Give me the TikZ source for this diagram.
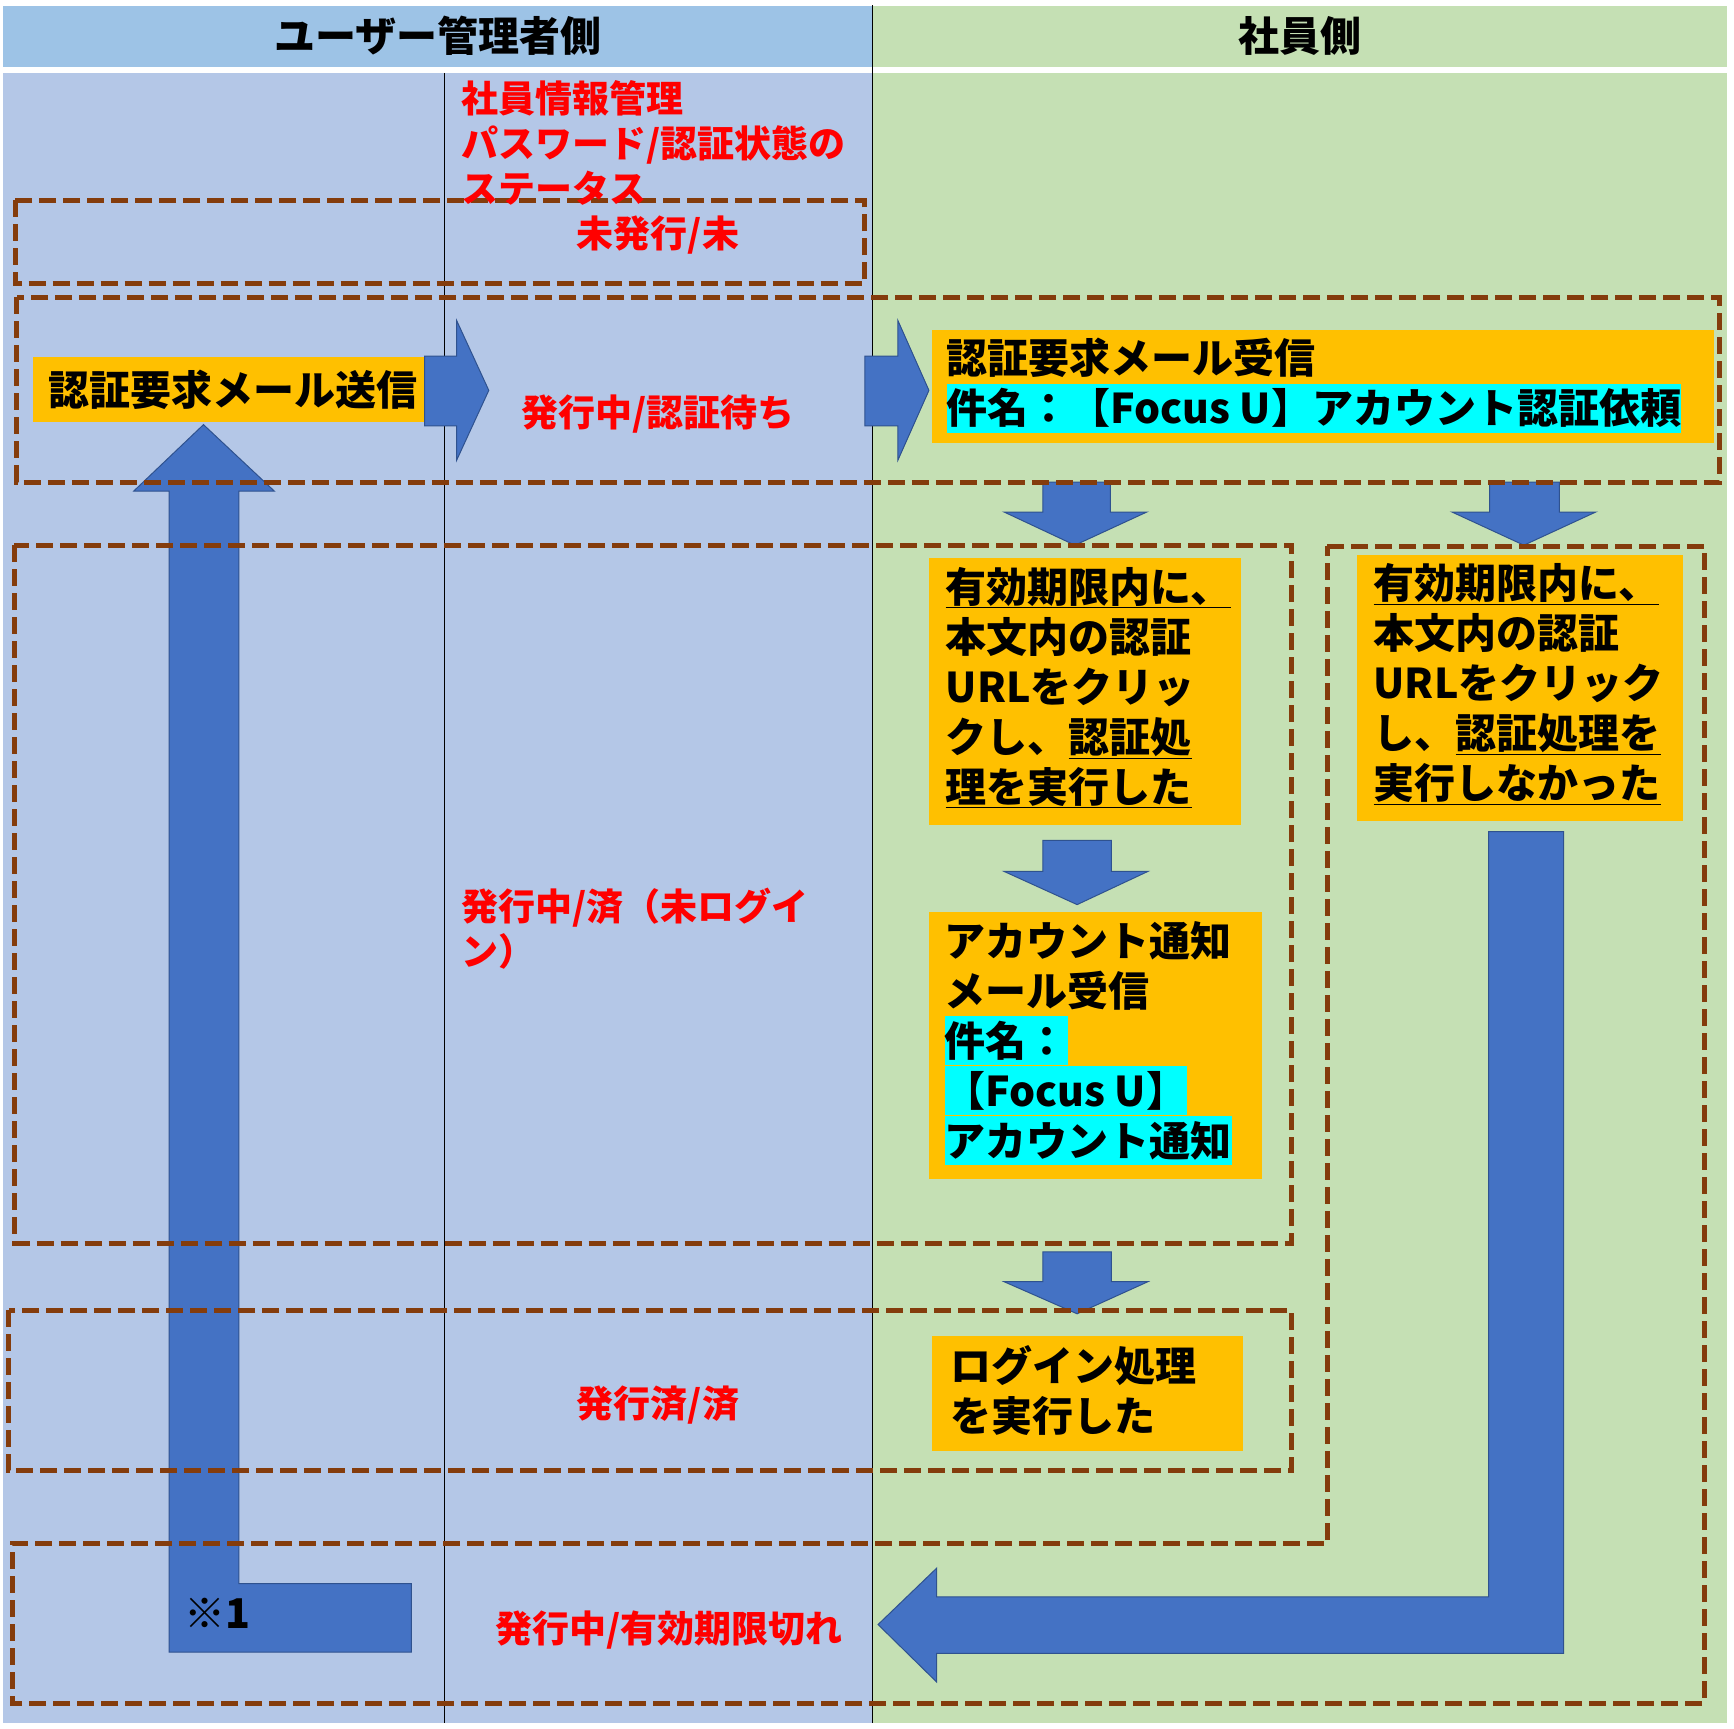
\documentclass[tikz,border=0pt]{standalone}
\usepackage{fontspec}
\setmainfont{Noto Sans CJK JP}
\usetikzlibrary{fit}
\definecolor{hdrblue}{HTML}{9DC3E6}
\definecolor{bodyblue}{HTML}{B4C7E7}
\definecolor{lanegreen}{HTML}{C5E0B4}
\definecolor{boxorange}{HTML}{FFC000}
\definecolor{arrowblue}{HTML}{4472C4}
\definecolor{arrowline}{HTML}{2F528F}
\definecolor{dashbrown}{HTML}{843C0C}
\definecolor{hlcyan}{HTML}{00FFFF}
\definecolor{statusred}{HTML}{FF0000}
\newcommand{\lstrut}{\rule[-9pt]{0pt}{49pt}}
\newcommand{\rstrut}{\rule[-8pt]{0pt}{45pt}}
\newcommand{\cyanhl}[1]{{\setlength{\fboxsep}{0pt}\colorbox{hlcyan}{\lstrut#1}}}
\newcommand{\jpblack}{\fontsize{41pt}{50pt}\selectfont\bfseries}
\newcommand{\jpred}{\fontsize{37pt}{45pt}\selectfont\bfseries}
\begin{document}
\begin{tikzpicture}[x=1.1059pt,y=-1.1059pt,
  lanefill/.style={draw=none, inner sep=0pt},
  obox/.style={fill=boxorange, draw=none, inner sep=0pt},
  btxt/.style={anchor=west, inner sep=0pt, align=left, font=\jpblack, text=black},
  rtxt/.style={inner sep=0pt, align=left, font=\jpred, text=statusred},
  barrow/.style={fill=arrowblue, draw=arrowline, line width=1pt, line join=miter},
  dbox/.style={draw=dashbrown, line width=5pt, dash pattern=on 17pt off 7pt},
]
\useasboundingbox (0,0) rectangle (1568,1563);
\fill[white] (0,0) rectangle (1568,1563);
% lanes
\node[lanefill, fill=hdrblue, fit={(3,5) (789,60.5)}] (hdrL) {};
\node[lanefill, fill=lanegreen, fit={(789,5) (1562,60.5)}] (hdrR) {};
\node[btxt, anchor=center] (hdrLT) at (hdrL.center) {\lstrut ユーザー管理者側};
\node[btxt, anchor=center] (hdrRT) at (hdrR.center) {\lstrut 社員側};
\node[lanefill, fill=bodyblue, fit={(3,66) (789,1558)}] (laneL) {};
\node[lanefill, fill=lanegreen, fit={(789,66) (1562,1558)}] (laneR) {};
\coordinate (colT) at (402,66);
\coordinate (colB) at (402,1558);
\draw[black, line width=1.3pt] (colT) -- (colB);
\draw[black, line width=1.3pt] (hdrL.north east) -- (laneL.south east);

% orange boxes
\node[obox, fit={(30,323) (384,382)}] (send) {};
\node[obox, fit={(843,298) (1550,401)}] (rcv) {};
\node[obox, fit={(840,505) (1122,746)}] (okA) {};
\node[obox, fit={(1227,502) (1522,742)}] (ngB) {};
\node[obox, fit={(840,825) (1141,1066)}] (acct) {};
\node[obox, fit={(843,1208) (1124,1312)}] (login) {};

% block arrows
\path[barrow] (384,322) -- (413,322) -- (413,290) -- (442,353) -- (413,416) -- (413,385) -- (384,385) -- cycle;
\path[barrow] (782,322) -- (812,322) -- (812,290) -- (840,353) -- (812,416) -- (812,385) -- (782,385) -- cycle;
\path[barrow] (153,1494) -- (153,444) -- (121,444) -- (184,384) -- (248,444) -- (216,444) -- (216,1432) -- (372,1432) -- (372,1494) -- cycle;
\path[barrow] (1346,752) -- (1414,752) -- (1414,1495) -- (847,1495) -- (847,1521) -- (794,1469) -- (847,1418) -- (847,1444) -- (1346,1444) -- cycle;
\path[barrow] (943,436) -- (1004,436) -- (1004,463) -- (1037,463) -- (972,493) -- (908,463) -- (943,463) -- cycle;
\path[barrow] (1347,436) -- (1410,436) -- (1410,463) -- (1443,463) -- (1378,493) -- (1313,463) -- (1347,463) -- cycle;
\path[barrow] (943,760) -- (1005,760) -- (1005,788) -- (1038,788) -- (974,818) -- (908,788) -- (943,788) -- cycle;
\path[barrow] (943,1132) -- (1005,1132) -- (1005,1159) -- (1038,1159) -- (974,1188) -- (908,1159) -- (943,1159) -- cycle;

% dashed state regions
\draw[dbox] (14,181) rectangle (782,256);
\draw[dbox] (15,269) rectangle (1555,436);
\draw[dbox] (13,493) rectangle (1168,1124);
\draw[dbox] (8,1185) rectangle (1168,1330);
\draw[dbox] (1200,494) -- (1541,494) -- (1541,1540) -- (11,1540) -- (11,1396) -- (1200,1396) -- cycle;

% box texts
\node[btxt] (sendT) at (44,352.5) {\lstrut 認証要求メール送信};
\node[btxt] (rcvT) at (856,346.5) {\lstrut 認証要求メール受信\\\cyanhl{件名：【Focus U】アカウント認証依頼}};
\node[btxt] (okAT) at (855,621) {\lstrut\underline{有効期限内に、}\\\lstrut 本文内の認証\\\lstrut URLをクリッ\\\lstrut クし、\underline{認証処}\\\lstrut\underline{理を実行した}};
\node[btxt] (ngBT) at (1242,618) {\lstrut\underline{有効期限内に、}\\\lstrut 本文内の認証\\\lstrut URLをクリック\\\lstrut し、\underline{認証処理を}\\\lstrut\underline{実行しなかった}};
\node[btxt] (acctT) at (854,941) {\lstrut アカウント通知\\\lstrut メール受信\\\cyanhl{件名：}\\\cyanhl{【Focus U】}\\\cyanhl{アカウント通知}};
\node[btxt] (loginT) at (859,1257.5) {\lstrut ログイン処理\\\lstrut を実行した};
\node[btxt, anchor=center] (note1) at (197,1459) {\lstrut ※1};

% status texts
\node[rtxt, anchor=west] (statHdr) at (417,129) {\rstrut 社員情報管理\\\rstrut パスワード/認証状態の\\\rstrut ステータス};
\node[rtxt] (st1) at (595,211) {\rstrut 未発行/未};
\node[rtxt] (st2) at (595,373) {\rstrut 発行中/認証待ち};
\node[rtxt, anchor=west] (st3) at (417,840) {\rstrut 発行中/済（未ログイ\\\rstrut ン）};
\node[rtxt] (st4) at (595,1269) {\rstrut 発行済/済};
\node[rtxt] (st5) at (605,1472) {\rstrut 発行中/有効期限切れ};
\end{tikzpicture}
\end{document}
